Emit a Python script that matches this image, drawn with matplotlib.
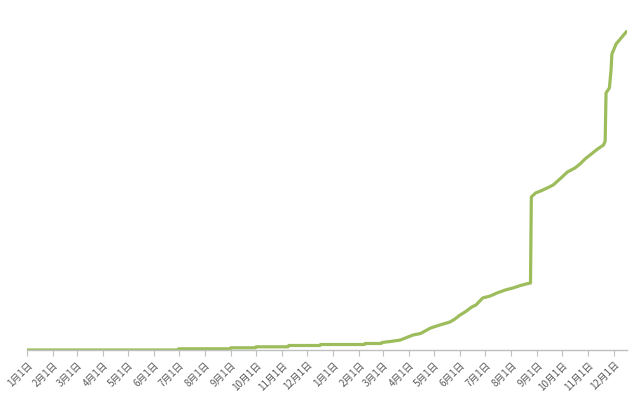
import matplotlib
matplotlib.use("Agg")
import matplotlib.pyplot as plt
import pandas as pd

plt.rcParams['font.family'] = ['Noto Sans CJK JP', 'DejaVu Sans']

# cumulative values (arbitrary units)
dates = ["2013-01-01", "2013-06-30", "2013-07-01", "2013-08-31", "2013-09-01",
         "2013-09-30", "2013-10-01", "2013-11-08", "2013-11-09", "2013-12-16",
         "2013-12-17", "2014-02-07", "2014-02-08", "2014-02-27", "2014-02-28",
         "2014-03-10", "2014-03-22", "2014-04-06", "2014-04-15", "2014-04-27",
         "2014-05-08", "2014-05-20", "2014-05-26", "2014-06-01", "2014-06-07",
         "2014-06-15", "2014-06-20", "2014-06-28", "2014-07-07", "2014-07-15",
         "2014-07-25", "2014-08-03", "2014-08-12", "2014-08-21", "2014-08-24",
         "2014-08-25", "2014-08-30", "2014-09-05", "2014-09-13", "2014-09-20",
         "2014-09-28", "2014-10-07", "2014-10-16", "2014-10-22", "2014-10-28",
         "2014-11-03", "2014-11-12", "2014-11-19", "2014-11-21", "2014-11-22",
         "2014-11-26", "2014-11-28", "2014-11-29", "2014-12-02", "2014-12-04",
         "2014-12-09", "2014-12-14", "2014-12-17"]
values = [0, 0, 1.2, 1.2, 2.2,
          2.2, 3.2, 3.2, 4.5, 4.5,
          5.5, 5.5, 6.5, 6.5, 7.5,
          8.5, 10, 15, 16.5, 22,
          25, 28, 31, 35, 38,
          43, 45, 52, 54, 57,
          60, 62, 64.5, 66.5, 67,
          153, 157, 159, 162, 165,
          171, 178, 182, 186, 191,
          195, 201, 205, 209, 257,
          262, 280, 296, 302, 306,
          311, 316, 319]

x = pd.to_datetime(dates)
ticks = pd.date_range("2013-01-01", "2014-12-01", freq="MS")
tick_labels = [f"{d.month}月{d.day}日" for d in ticks]

fig = plt.figure(figsize=(6.33, 3.94), dpi=100)
ax = fig.add_axes([27/633, 44/394, 600/633, 320/394])

ax.plot(x, values, color="#9DBD5C", linewidth=2.3, solid_joinstyle="round")

ax.set_xlim(pd.Timestamp("2013-01-01"), pd.Timestamp("2014-12-17"))
ax.set_ylim(0, 320)
ax.set_xticks(ticks)
ax.set_xticklabels(tick_labels, rotation=45, ha="right", rotation_mode="anchor",
                   fontsize=7, color="#595959")
ax.tick_params(axis="x", direction="out", length=4, color="#BFBFBF", pad=3)
ax.set_yticks([])
for s in ["top", "right", "left"]:
    ax.spines[s].set_visible(False)
ax.spines["bottom"].set_color("#BFBFBF")
ax.spines["bottom"].set_linewidth(1)
ax.set_zorder(1)

fig.savefig("out.png", dpi=100)
